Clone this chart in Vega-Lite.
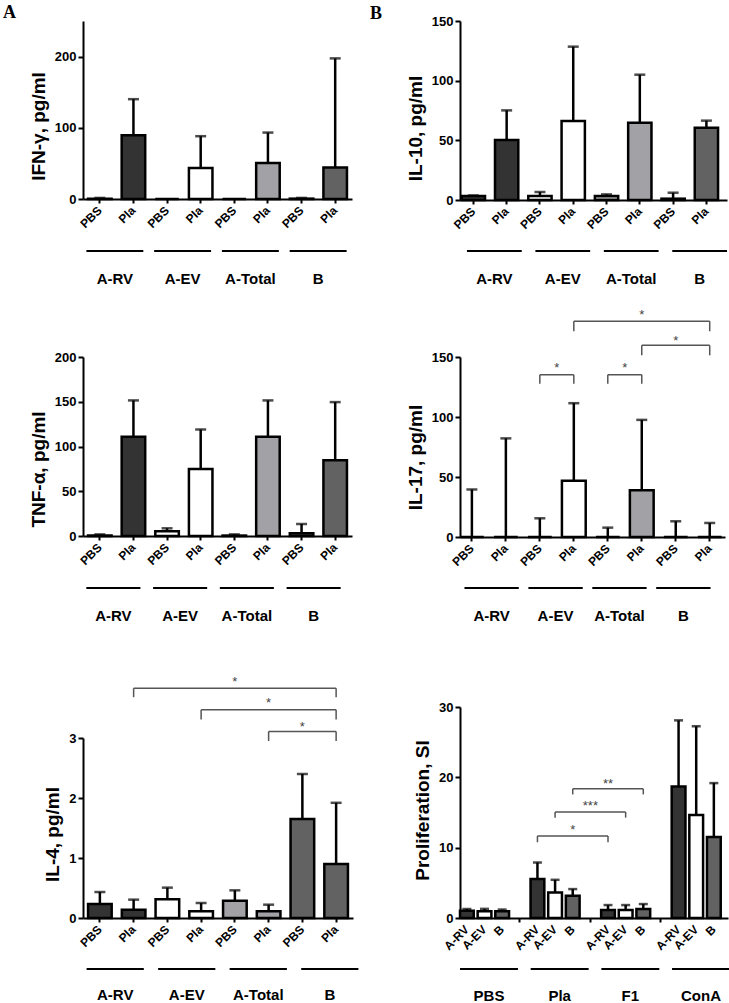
{
  "$schema": "https://vega.github.io/schema/vega-lite/v6.json",
  "padding": {"left": 3, "top": 4, "right": 0, "bottom": 0},
  "background": "white",
  "config": {
    "view": {"stroke": null},
    "font": "Liberation Sans",
    "axis": {"domainColor": "black", "domainWidth": 2, "tickColor": "black", "tickWidth": 2, "labelFont": "Liberation Sans", "labelFontWeight": "bold", "labelColor": "black", "titleFont": "Liberation Sans", "titleFontWeight": "bold", "titleColor": "black", "grid": false, "labelFontSize": 12, "titleFontSize": 19},
    "axisY": {"tickSize": 5, "labelPadding": 2, "titlePadding": 6, "labelOverlap": false, "labelFontSize": 13}
  },
  "datasets": {
    "none": [],
    "groups": [{"grp": "A-RV"}, {"grp": "A-EV"}, {"grp": "A-Total"}, {"grp": "B"}],
    "groups6": [{"grp": "PBS"}, {"grp": "Pla"}, {"grp": "F1"}, {"grp": "ConA"}],
    "ifn": [
      {"cat": "A-RV|PBS", "strain": "A-RV", "mean": 0.5, "upper": 1.5},
      {"cat": "A-RV|Pla", "strain": "A-RV", "mean": 89.6, "upper": 140.2},
      {"cat": "A-EV|PBS", "strain": "A-EV", "mean": 0, "upper": null},
      {"cat": "A-EV|Pla", "strain": "A-EV", "mean": 43.6, "upper": 88.2},
      {"cat": "A-Total|PBS", "strain": "A-Total", "mean": 0, "upper": null},
      {"cat": "A-Total|Pla", "strain": "A-Total", "mean": 50.7, "upper": 93.3},
      {"cat": "B|PBS", "strain": "B", "mean": 0.5, "upper": 1.5},
      {"cat": "B|Pla", "strain": "B", "mean": 44.1, "upper": 197.5}
    ],
    "il10": [
      {"cat": "A-RV|PBS", "strain": "A-RV", "mean": 3.3, "upper": 3.8},
      {"cat": "A-RV|Pla", "strain": "A-RV", "mean": 50.3, "upper": 75.1},
      {"cat": "A-EV|PBS", "strain": "A-EV", "mean": 3.4, "upper": 6.7},
      {"cat": "A-EV|Pla", "strain": "A-EV", "mean": 66.2, "upper": 128.5},
      {"cat": "A-Total|PBS", "strain": "A-Total", "mean": 3.4, "upper": 4.7},
      {"cat": "A-Total|Pla", "strain": "A-Total", "mean": 64.8, "upper": 105},
      {"cat": "B|PBS", "strain": "B", "mean": 1.1, "upper": 6.1},
      {"cat": "B|Pla", "strain": "B", "mean": 60.6, "upper": 66.5}
    ],
    "tnf": [
      {"cat": "A-RV|PBS", "strain": "A-RV", "mean": 0.5, "upper": 1.8},
      {"cat": "A-RV|Pla", "strain": "A-RV", "mean": 110.8, "upper": 151.5},
      {"cat": "A-EV|PBS", "strain": "A-EV", "mean": 5.2, "upper": 8.6},
      {"cat": "A-EV|Pla", "strain": "A-EV", "mean": 75, "upper": 119},
      {"cat": "A-Total|PBS", "strain": "A-Total", "mean": 0.5, "upper": 1.8},
      {"cat": "A-Total|Pla", "strain": "A-Total", "mean": 110.8, "upper": 151.5},
      {"cat": "B|PBS", "strain": "B", "mean": 3, "upper": 13.4},
      {"cat": "B|Pla", "strain": "B", "mean": 84.7, "upper": 149.6}
    ],
    "il17": [
      {"cat": "A-RV|PBS", "strain": "A-RV", "mean": 0, "upper": 39.6},
      {"cat": "A-RV|Pla", "strain": "A-RV", "mean": 0, "upper": 82.2},
      {"cat": "A-EV|PBS", "strain": "A-EV", "mean": 0, "upper": 15.6},
      {"cat": "A-EV|Pla", "strain": "A-EV", "mean": 46.8, "upper": 111.5},
      {"cat": "A-Total|PBS", "strain": "A-Total", "mean": 0, "upper": 7.8},
      {"cat": "A-Total|Pla", "strain": "A-Total", "mean": 39, "upper": 97.6},
      {"cat": "B|PBS", "strain": "B", "mean": 0, "upper": 13.1},
      {"cat": "B|Pla", "strain": "B", "mean": 0, "upper": 11.7}
    ],
    "il4": [
      {"cat": "A-RV|PBS", "strain": "A-RV", "mean": 0.233, "upper": 0.433},
      {"cat": "A-RV|Pla", "strain": "A-RV", "mean": 0.139, "upper": 0.306},
      {"cat": "A-EV|PBS", "strain": "A-EV", "mean": 0.311, "upper": 0.506},
      {"cat": "A-EV|Pla", "strain": "A-EV", "mean": 0.111, "upper": 0.25},
      {"cat": "A-Total|PBS", "strain": "A-Total", "mean": 0.289, "upper": 0.461},
      {"cat": "A-Total|Pla", "strain": "A-Total", "mean": 0.111, "upper": 0.222},
      {"cat": "B|PBS", "strain": "B", "mean": 1.65, "upper": 2.4},
      {"cat": "B|Pla", "strain": "B", "mean": 0.9, "upper": 1.92}
    ],
    "prolif": [
      {"cat": "PBS|A-RV", "strain": "A-RV", "mean": 1.04, "upper": 1.28},
      {"cat": "PBS|A-EV", "strain": "A-EV", "mean": 0.95, "upper": 1.3},
      {"cat": "PBS|B", "strain": "B", "mean": 0.95, "upper": 1.2},
      {"cat": "Pla|A-RV", "strain": "A-RV", "mean": 5.53, "upper": 7.89},
      {"cat": "Pla|A-EV", "strain": "A-EV", "mean": 3.64, "upper": 5.43},
      {"cat": "Pla|B", "strain": "B", "mean": 3.16, "upper": 4.11},
      {"cat": "F1|A-RV", "strain": "A-RV", "mean": 1.13, "upper": 1.84},
      {"cat": "F1|A-EV", "strain": "A-EV", "mean": 1.13, "upper": 1.84},
      {"cat": "F1|B", "strain": "B", "mean": 1.28, "upper": 1.98},
      {"cat": "ConA|A-RV", "strain": "A-RV", "mean": 18.7, "upper": 28.1},
      {"cat": "ConA|A-EV", "strain": "A-EV", "mean": 14.64, "upper": 27.26},
      {"cat": "ConA|B", "strain": "B", "mean": 11.53, "upper": 19.18}
    ],
    "br17": [
      {"from": "A-EV|PBS", "to": "A-EV|Pla", "top": 135.2, "bottom": 127.7, "mid": "A-EV|PBS", "between": true, "ty": 143, "label": "*"},
      {"from": "A-Total|PBS", "to": "A-Total|Pla", "top": 135.2, "bottom": 127.7, "mid": "A-Total|PBS", "between": true, "ty": 143, "label": "*"},
      {"from": "A-EV|Pla", "to": "B|Pla", "top": 179.8, "bottom": 171.5, "mid": "A-Total|Pla", "between": false, "ty": 187.6, "label": "*"},
      {"from": "A-Total|Pla", "to": "B|Pla", "top": 159.7, "bottom": 151.4, "mid": "B|PBS", "between": false, "ty": 165.9, "label": "*"}
    ],
    "br4": [
      {"from": "A-RV|Pla", "to": "B|Pla", "top": 3.83, "bottom": 3.68, "mid": "A-Total|PBS", "ty": 3.99, "label": "*"},
      {"from": "A-EV|Pla", "to": "B|Pla", "top": 3.47, "bottom": 3.31, "mid": "A-Total|Pla", "ty": 3.63, "label": "*"},
      {"from": "A-Total|Pla", "to": "B|Pla", "top": 3.11, "bottom": 2.95, "mid": "B|PBS", "ty": 3.23, "label": "*"}
    ],
    "br6": [
      {"from": "Pla|A-RV", "to": "F1|A-RV", "top": 11.67, "bottom": 10.77, "mid": "Pla|B", "ty": 13.0, "label": "*"},
      {"from": "Pla|A-EV", "to": "F1|A-EV", "top": 15.07, "bottom": 14.27, "mid": "gap2", "ty": 16.4, "label": "***"},
      {"from": "Pla|B", "to": "F1|B", "top": 18.37, "bottom": 17.57, "mid": "F1|A-RV", "ty": 19.5, "label": "**"}
    ]
  },
  "columns": 2,
  "align": "none",
  "bounds": "flush",
  "spacing": {"row": 50, "column": 98},
  "concat": [
    {
      "width": 269, "height": 178,
      "title": {"text": "A", "anchor": "start", "frame": "group", "dx": -80, "dy": 15, "offset": 0, "baseline": "alphabetic", "font": "Liberation Serif", "fontSize": 18, "fontWeight": "bold", "color": "black"},
      "data": {"name": "ifn"},
      "layer": [
        {"mark": {"type": "bar", "stroke": "black", "strokeWidth": 2.5},
         "encoding": {
           "x": {"field": "cat", "type": "nominal", "scale": {"domain": ["A-RV|PBS", "A-RV|Pla", "A-EV|PBS", "A-EV|Pla", "A-Total|PBS", "A-Total|Pla", "B|PBS", "B|Pla"], "paddingInner": 0.3, "paddingOuter": 0.15},
                 "axis": {"title": null, "labelAngle": -45, "labelAlign": "right", "labelBaseline": "middle", "labelFontSize": 12, "labelPadding": 5, "tickSize": 4, "labelExpr": "split(datum.value, '|')[1]", "labelOverlap": false}},
           "y": {"field": "mean", "type": "quantitative", "scale": {"domain": [0, 250], "nice": false}, "axis": {"values": [0, 50, 100, 150, 200, 250], "title": "IFN-γ, pg/ml", "titleY": 105}},
           "fill": {"field": "strain", "type": "nominal", "scale": {"domain": ["A-RV", "A-EV", "A-Total", "B"], "range": ["#333333", "#ffffff", "#a2a2a6", "#626262"]}, "legend": null}}},
        {"mark": {"type": "rule", "strokeWidth": 2.5, "color": "black"},
         "encoding": {"x": {"field": "cat", "type": "nominal"}, "y": {"field": "mean", "type": "quantitative"}, "y2": {"field": "upper"}}},
        {"mark": {"type": "tick", "thickness": 2.5, "size": 11, "color": "black"},
         "encoding": {"x": {"field": "cat", "type": "nominal"}, "y": {"field": "upper", "type": "quantitative"}}}
      ]
    },
    {
      "width": 267, "height": 179,
      "title": {"text": "B", "anchor": "start", "frame": "group", "dx": -90, "dy": 22, "offset": 0, "baseline": "alphabetic", "font": "Liberation Serif", "fontSize": 18, "fontWeight": "bold", "color": "black"},
      "data": {"name": "il10"},
      "layer": [
        {"mark": {"type": "bar", "stroke": "black", "strokeWidth": 2.5},
         "encoding": {
           "x": {"field": "cat", "type": "nominal", "scale": {"domain": ["A-RV|PBS", "A-RV|Pla", "A-EV|PBS", "A-EV|Pla", "A-Total|PBS", "A-Total|Pla", "B|PBS", "B|Pla"], "paddingInner": 0.3, "paddingOuter": 0.16, "align": 0.16},
                 "axis": {"title": null, "labelAngle": -45, "labelAlign": "right", "labelBaseline": "middle", "labelFontSize": 12, "labelPadding": 5, "tickSize": 4, "labelExpr": "split(datum.value, '|')[1]", "labelOverlap": false}},
           "y": {"field": "mean", "type": "quantitative", "scale": {"domain": [0, 150], "nice": false}, "axis": {"values": [0, 50, 100, 150], "title": "IL-10, pg/ml", "titleY": 107}},
           "fill": {"field": "strain", "type": "nominal", "scale": {"domain": ["A-RV", "A-EV", "A-Total", "B"], "range": ["#333333", "#ffffff", "#a2a2a6", "#626262"]}, "legend": null}}},
        {"mark": {"type": "rule", "strokeWidth": 2.5, "color": "black"},
         "encoding": {"x": {"field": "cat", "type": "nominal"}, "y": {"field": "mean", "type": "quantitative"}, "y2": {"field": "upper"}}},
        {"mark": {"type": "tick", "thickness": 2.5, "size": 11, "color": "black"},
         "encoding": {"x": {"field": "cat", "type": "nominal"}, "y": {"field": "upper", "type": "quantitative"}}}
      ]
    },
    {
      "width": 267, "height": 2,
      "data": {"name": "groups"},
      "mark": {"type": "rect", "fill": "black"},
      "encoding": {"x": {"field": "grp", "type": "nominal", "sort": null, "scale": {"paddingInner": 0.16, "paddingOuter": 0.05}, "axis": {"title": null, "domain": false, "ticks": false, "labelAngle": 0, "labelFontSize": 15, "labelPadding": 19}}}
    },
    {
      "width": 274, "height": 2,
      "data": {"name": "groups"},
      "mark": {"type": "rect", "fill": "black"},
      "encoding": {"x": {"field": "grp", "type": "nominal", "sort": null, "scale": {"paddingInner": 0.2, "paddingOuter": 0.102}, "axis": {"title": null, "domain": false, "ticks": false, "labelAngle": 0, "labelFontSize": 15, "labelPadding": 19}}}
    },
    {"width": 1, "height": 5, "data": {"name": "none"}, "mark": "point"},
    {"width": 1, "height": 5, "data": {"name": "none"}, "mark": "point"},
    {
      "width": 269, "height": 179,
      "data": {"name": "tnf"},
      "layer": [
        {"mark": {"type": "bar", "stroke": "black", "strokeWidth": 2.5},
         "encoding": {
           "x": {"field": "cat", "type": "nominal", "scale": {"domain": ["A-RV|PBS", "A-RV|Pla", "A-EV|PBS", "A-EV|Pla", "A-Total|PBS", "A-Total|Pla", "B|PBS", "B|Pla"], "paddingInner": 0.3, "paddingOuter": 0.15},
                 "axis": {"title": null, "labelAngle": -45, "labelAlign": "right", "labelBaseline": "middle", "labelFontSize": 12, "labelPadding": 5, "tickSize": 4, "labelExpr": "split(datum.value, '|')[1]", "labelOverlap": false}},
           "y": {"field": "mean", "type": "quantitative", "scale": {"domain": [0, 200], "nice": false}, "axis": {"values": [0, 50, 100, 150, 200], "title": "TNF-α, pg/ml", "titleY": 112}},
           "fill": {"field": "strain", "type": "nominal", "scale": {"domain": ["A-RV", "A-EV", "A-Total", "B"], "range": ["#333333", "#ffffff", "#a2a2a6", "#626262"]}, "legend": null}}},
        {"mark": {"type": "rule", "strokeWidth": 2.5, "color": "black"},
         "encoding": {"x": {"field": "cat", "type": "nominal"}, "y": {"field": "mean", "type": "quantitative"}, "y2": {"field": "upper"}}},
        {"mark": {"type": "tick", "thickness": 2.5, "size": 11, "color": "black"},
         "encoding": {"x": {"field": "cat", "type": "nominal"}, "y": {"field": "upper", "type": "quantitative"}}}
      ]
    },
    {
      "width": 265, "height": 180,
      "layer": [
        {"data": {"name": "il17"},
         "mark": {"type": "bar", "stroke": "black", "strokeWidth": 2.5},
         "encoding": {
           "x": {"field": "cat", "type": "nominal", "scale": {"domain": ["A-RV|PBS", "A-RV|Pla", "A-EV|PBS", "A-EV|Pla", "A-Total|PBS", "A-Total|Pla", "B|PBS", "B|Pla"], "paddingInner": 0.3, "paddingOuter": 0.05, "align": 0},
                 "axis": {"title": null, "labelAngle": -45, "labelAlign": "right", "labelBaseline": "middle", "labelFontSize": 12, "labelPadding": 5, "tickSize": 4, "labelExpr": "split(datum.value, '|')[1]", "labelOverlap": false}},
           "y": {"field": "mean", "type": "quantitative", "scale": {"domain": [0, 150], "nice": false}, "axis": {"values": [0, 50, 100, 150], "title": "IL-17, pg/ml", "titleY": 100}},
           "fill": {"field": "strain", "type": "nominal", "scale": {"domain": ["A-RV", "A-EV", "A-Total", "B"], "range": ["#333333", "#ffffff", "#a2a2a6", "#626262"]}, "legend": null}}},
        {"data": {"name": "il17"},
         "mark": {"type": "rule", "strokeWidth": 2.5, "color": "black"},
         "encoding": {"x": {"field": "cat", "type": "nominal"}, "y": {"field": "mean", "type": "quantitative"}, "y2": {"field": "upper"}}},
        {"data": {"name": "il17"},
         "mark": {"type": "tick", "thickness": 2.5, "size": 11, "color": "black"},
         "encoding": {"x": {"field": "cat", "type": "nominal"}, "y": {"field": "upper", "type": "quantitative"}}},
        {"data": {"name": "br17"},
         "mark": {"type": "rule", "strokeWidth": 1.5, "color": "#555555"},
         "encoding": {"x": {"field": "from", "type": "nominal"}, "x2": {"field": "to"}, "y": {"field": "top", "type": "quantitative"}}},
        {"data": {"name": "br17"},
         "mark": {"type": "rule", "strokeWidth": 1.5, "color": "#555555"},
         "encoding": {"x": {"field": "from", "type": "nominal"}, "y": {"field": "top", "type": "quantitative"}, "y2": {"field": "bottom"}}},
        {"data": {"name": "br17"},
         "mark": {"type": "rule", "strokeWidth": 1.5, "color": "#555555"},
         "encoding": {"x": {"field": "to", "type": "nominal"}, "y": {"field": "top", "type": "quantitative"}, "y2": {"field": "bottom"}}},
        {"data": {"name": "br17"},
         "transform": [{"filter": "!datum.between"}],
         "mark": {"type": "text", "fontSize": 13, "color": "#444444", "baseline": "middle", "dy": 3},
         "encoding": {"x": {"field": "mid", "type": "nominal"}, "y": {"field": "ty", "type": "quantitative"}, "text": {"field": "label"}}},
        {"data": {"name": "br17"},
         "transform": [{"filter": "datum.between"}],
         "mark": {"type": "text", "fontSize": 13, "color": "#444444", "baseline": "middle", "dy": 3},
         "encoding": {"x": {"field": "mid", "type": "nominal", "bandPosition": 1.214}, "y": {"field": "ty", "type": "quantitative"}, "text": {"field": "label"}}}
      ]
    },
    {
      "width": 261, "height": 2,
      "data": {"name": "groups"},
      "mark": {"type": "rect", "fill": "black"},
      "encoding": {"x": {"field": "grp", "type": "nominal", "sort": null, "scale": {"paddingInner": 0.19, "paddingOuter": 0.05}, "axis": {"title": null, "domain": false, "ticks": false, "labelAngle": 0, "labelFontSize": 15, "labelPadding": 19}}}
    },
    {
      "width": 255, "height": 2,
      "data": {"name": "groups"},
      "mark": {"type": "rect", "fill": "black"},
      "encoding": {"x": {"field": "grp", "type": "nominal", "sort": null, "scale": {"paddingInner": 0.15, "paddingOuter": 0.07}, "axis": {"title": null, "domain": false, "ticks": false, "labelAngle": 0, "labelFontSize": 15, "labelPadding": 19}}}
    },
    {"width": 1, "height": 18, "data": {"name": "none"}, "mark": "point"},
    {"width": 1, "height": 18, "data": {"name": "none"}, "mark": "point"},
    {
      "width": 270, "height": 211,
      "layer": [
        {"data": {"name": "il4"},
         "mark": {"type": "bar", "stroke": "black", "strokeWidth": 2.5},
         "encoding": {
           "x": {"field": "cat", "type": "nominal", "scale": {"domain": ["A-RV|PBS", "A-RV|Pla", "A-EV|PBS", "A-EV|Pla", "A-Total|PBS", "A-Total|Pla", "B|PBS", "B|Pla"], "paddingInner": 0.3, "paddingOuter": 0.15},
                 "axis": {"title": null, "labelAngle": -45, "labelAlign": "right", "labelBaseline": "middle", "labelFontSize": 12, "labelPadding": 5, "tickSize": 4, "labelExpr": "split(datum.value, '|')[1]", "labelOverlap": false}},
           "y": {"field": "mean", "type": "quantitative", "scale": {"domain": [0, 3], "nice": false, "range": [211, 31]}, "axis": {"values": [0, 1, 2, 3], "format": "d", "title": "IL-4, pg/ml", "titleY": 127}},
           "fill": {"field": "strain", "type": "nominal", "scale": {"domain": ["A-RV", "A-EV", "A-Total", "B"], "range": ["#333333", "#ffffff", "#a2a2a6", "#626262"]}, "legend": null}}},
        {"data": {"name": "il4"},
         "mark": {"type": "rule", "strokeWidth": 2.5, "color": "black"},
         "encoding": {"x": {"field": "cat", "type": "nominal"}, "y": {"field": "mean", "type": "quantitative"}, "y2": {"field": "upper"}}},
        {"data": {"name": "il4"},
         "mark": {"type": "tick", "thickness": 2.5, "size": 11, "color": "black"},
         "encoding": {"x": {"field": "cat", "type": "nominal"}, "y": {"field": "upper", "type": "quantitative"}}},
        {"data": {"name": "br4"},
         "mark": {"type": "rule", "strokeWidth": 1.5, "color": "#555555"},
         "encoding": {"x": {"field": "from", "type": "nominal"}, "x2": {"field": "to"}, "y": {"field": "top", "type": "quantitative"}}},
        {"data": {"name": "br4"},
         "mark": {"type": "rule", "strokeWidth": 1.5, "color": "#555555"},
         "encoding": {"x": {"field": "from", "type": "nominal"}, "y": {"field": "top", "type": "quantitative"}, "y2": {"field": "bottom"}}},
        {"data": {"name": "br4"},
         "mark": {"type": "rule", "strokeWidth": 1.5, "color": "#555555"},
         "encoding": {"x": {"field": "to", "type": "nominal"}, "y": {"field": "top", "type": "quantitative"}, "y2": {"field": "bottom"}}},
        {"data": {"name": "br4"},
         "mark": {"type": "text", "fontSize": 13, "color": "#444444", "baseline": "middle", "dy": 3},
         "encoding": {"x": {"field": "mid", "type": "nominal"}, "y": {"field": "ty", "type": "quantitative"}, "text": {"field": "label"}}}
      ]
    },
    {
      "width": 268, "height": 211,
      "layer": [
        {"data": {"name": "prolif"},
         "mark": {"type": "bar", "stroke": "black", "strokeWidth": 2.5},
         "encoding": {
           "x": {"field": "cat", "type": "nominal", "scale": {"domain": ["PBS|A-RV", "PBS|A-EV", "PBS|B", "gap1", "Pla|A-RV", "Pla|A-EV", "Pla|B", "gap2", "F1|A-RV", "F1|A-EV", "F1|B", "gap3", "ConA|A-RV", "ConA|A-EV", "ConA|B"], "paddingInner": 0.22, "paddingOuter": 0.206, "align": 0},
                 "axis": {"title": null, "labelAngle": -45, "labelAlign": "right", "labelBaseline": "middle", "labelFontSize": 12, "labelPadding": 5, "tickSize": 4, "labelExpr": "indexof(datum.value, 'gap') == 0 ? '' : split(datum.value, '|')[1]", "labelOverlap": false,
                          "tickColor": {"condition": {"test": "indexof(datum.value, 'gap') == 0", "value": "black"}, "value": "transparent"}}},
           "y": {"field": "mean", "type": "quantitative", "scale": {"domain": [0, 30], "nice": false}, "axis": {"values": [0, 10, 20, 30], "title": "Proliferation, SI", "titleY": 103}},
           "fill": {"field": "strain", "type": "nominal", "scale": {"domain": ["A-RV", "A-EV", "A-Total", "B"], "range": ["#333333", "#ffffff", "#a2a2a6", "#626262"]}, "legend": null}}},
        {"data": {"name": "prolif"},
         "mark": {"type": "rule", "strokeWidth": 2.5, "color": "black"},
         "encoding": {"x": {"field": "cat", "type": "nominal"}, "y": {"field": "mean", "type": "quantitative"}, "y2": {"field": "upper"}}},
        {"data": {"name": "prolif"},
         "mark": {"type": "tick", "thickness": 2.5, "size": 9, "color": "black"},
         "encoding": {"x": {"field": "cat", "type": "nominal"}, "y": {"field": "upper", "type": "quantitative"}}},
        {"data": {"name": "br6"},
         "mark": {"type": "rule", "strokeWidth": 1.5, "color": "#555555"},
         "encoding": {"x": {"field": "from", "type": "nominal"}, "x2": {"field": "to"}, "y": {"field": "top", "type": "quantitative"}}},
        {"data": {"name": "br6"},
         "mark": {"type": "rule", "strokeWidth": 1.5, "color": "#555555"},
         "encoding": {"x": {"field": "from", "type": "nominal"}, "y": {"field": "top", "type": "quantitative"}, "y2": {"field": "bottom"}}},
        {"data": {"name": "br6"},
         "mark": {"type": "rule", "strokeWidth": 1.5, "color": "#555555"},
         "encoding": {"x": {"field": "to", "type": "nominal"}, "y": {"field": "top", "type": "quantitative"}, "y2": {"field": "bottom"}}},
        {"data": {"name": "br6"},
         "mark": {"type": "text", "fontSize": 13, "color": "#444444", "baseline": "middle", "dy": 3},
         "encoding": {"x": {"field": "mid", "type": "nominal"}, "y": {"field": "ty", "type": "quantitative"}, "text": {"field": "label"}}}
      ]
    },
    {
      "width": 279, "height": 2,
      "data": {"name": "groups"},
      "mark": {"type": "rect", "fill": "black"},
      "encoding": {"x": {"field": "grp", "type": "nominal", "sort": null, "scale": {"paddingInner": 0.2, "paddingOuter": 0.05}, "axis": {"title": null, "domain": false, "ticks": false, "labelAngle": 0, "labelFontSize": 15, "labelPadding": 17}}}
    },
    {
      "width": 270, "height": 2,
      "data": {"name": "groups6"},
      "mark": {"type": "rect", "fill": "black"},
      "encoding": {"x": {"field": "grp", "type": "nominal", "sort": null, "scale": {"paddingInner": 0.18, "paddingOuter": 0.0}, "axis": {"title": null, "domain": false, "ticks": false, "labelAngle": 0, "labelFontSize": 15, "labelPadding": 18}}}
    }
  ]
}
